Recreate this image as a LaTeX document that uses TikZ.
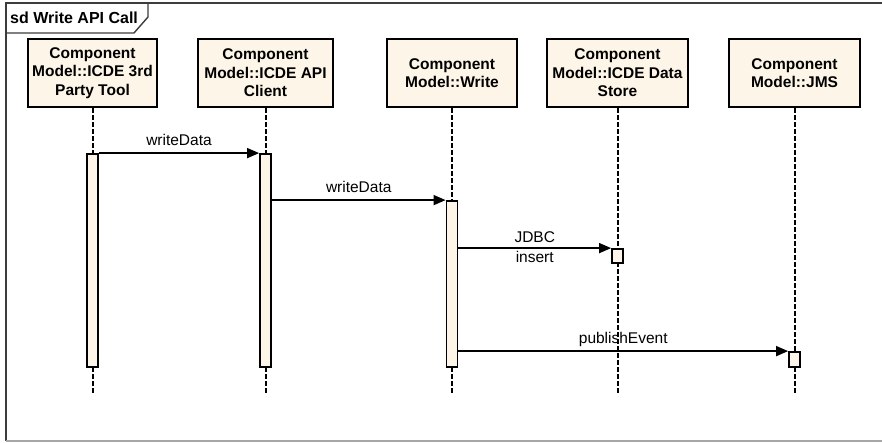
\documentclass[tikz,border=0pt]{standalone}
\usepackage{fontspec}
\setmainfont{Liberation Sans}
\usetikzlibrary{arrows.meta}
\definecolor{cream}{RGB}{253,246,232}
\definecolor{framec}{RGB}{60,60,60}
\begin{document}
\begin{tikzpicture}[x=1pt,y=-1pt,
  lifebox/.style={draw=black,line width=2.2pt,fill=cream,font=\fontsize{15.5}{18.5}\selectfont\bfseries,align=center,inner sep=0pt,minimum height=68pt},
  actbar/.style={draw=black,line width=1.8pt,fill=cream,inner sep=0pt,minimum width=11pt},
  lline/.style={line width=2pt,dash pattern=on 4.5pt off 2.5pt},
  msg/.style={line width=1.6pt,-{Triangle[length=12pt,width=10pt]}},
  lbl/.style={font=\fontsize{15.5}{18}\selectfont,inner sep=0pt,anchor=base},
  framel/.style={draw=framec,line width=1.4pt}]
\useasboundingbox (0,0) rectangle (882,443);
% frame
\draw[framel] (882,3) -- (6,3) -- (6,441);
\draw[draw=gray!70,line width=1.4pt] (6,441) -- (882,441);
\draw[framel] (6,33) -- (134,33) -- (148,17) -- (148,3);
\node[font=\fontsize{16}{18}\selectfont\bfseries,anchor=base west,inner sep=0pt] (title) at (10,24) {sd Write API Call};
% lifeline heads
\node[lifebox,minimum width=129pt] (l1) at (92.5,73) {Component\\Model::ICDE 3rd\\Party Tool};
\node[lifebox,minimum width=135pt] (l2) at (265.5,73) {Component\\Model::ICDE API\\Client};
\node[lifebox,minimum width=130pt] (l3) at (452,73) {Component\\Model::Write};
\node[lifebox,minimum width=141pt] (l4) at (617.5,73) {Component\\Model::ICDE Data\\Store};
\node[lifebox,minimum width=131pt] (l5) at (794.5,73) {Component\\Model::JMS};
% lifeline ends
\coordinate (e1) at (92.5,395);
\coordinate (e2) at (265.5,395);
\coordinate (e3) at (452,395);
\coordinate (e4) at (617.5,395);
\coordinate (e5) at (794.5,395);
\draw[lline] (l1.south) -- (e1);
\draw[lline] (l2.south) -- (e2);
\draw[lline] (l3.south) -- (e3);
\draw[lline] (l4.south) -- (e4);
\draw[lline] (l5.south) -- (e5);
% activations
\node[actbar,minimum height=213pt] (a1) at (92.5,260.5) {};
\node[actbar,minimum height=213pt] (a2) at (265.5,260.5) {};
\node[actbar,minimum height=166pt] (a3) at (452,284) {};
\node[actbar,minimum height=14pt] (a4) at (617.5,256) {};
\node[actbar,minimum height=15pt] (a5) at (794.5,359.5) {};
% messages
\draw[msg] (a1.north east) -- node[lbl,yshift=8pt] {writeData} (a2.north west);
\draw[msg] (a2.east |- a3.north) -- node[lbl,yshift=8pt] {writeData} (a3.north west);
\draw[msg] (a3.east |- a4.north) -- node[lbl,yshift=6pt] {JDBC} node[lbl,yshift=-14pt] {insert} (a4.north west);
\draw[msg] (a3.east |- a5.north) -- node[lbl,yshift=8pt] {publishEvent} (a5.north west);
\end{tikzpicture}
\end{document}
